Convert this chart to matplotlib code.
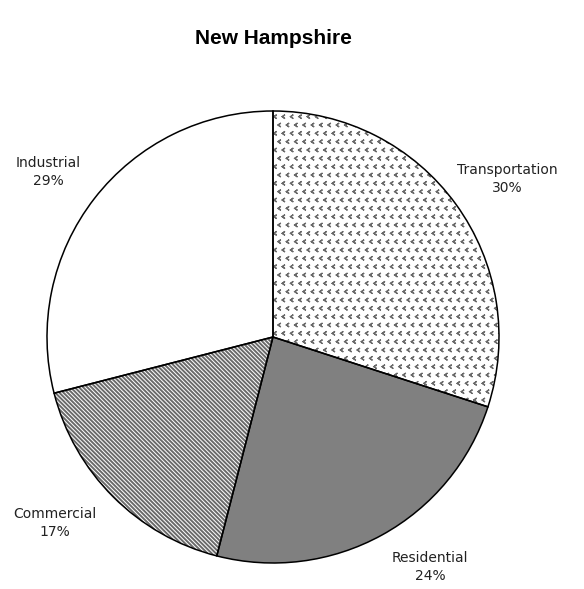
import numpy as np
import matplotlib.pyplot as plt
import matplotlib.hatch as mhatch
from matplotlib.path import Path

sectors = ['Transportation', 'Residential', 'Commercial', 'Industrial']
shares = [30, 24, 17, 29]
fills = ['white', '#808080', 'white', 'white']
hatches = ['..', None, '\\' * 8, None]


# small chevron marks for the transportation texture
class Chevrons(mhatch.Shapes):
    size = 0.4
    filled = False

    def __init__(self, hatch, density):
        self.num_rows = hatch.count('.') * density
        self.shape_vertices = np.array([[0.35, 0.5], [-0.35, 0], [0.35, -0.5]])
        self.shape_codes = np.array([Path.MOVETO, Path.LINETO, Path.LINETO])
        super().__init__(hatch, density)


mhatch._hatch_types = [Chevrons if t is mhatch.SmallFilledCircles else t
                       for t in mhatch._hatch_types]
plt.rcParams['hatch.linewidth'] = 0.9

fig = plt.figure(figsize=(5.84, 5.89), dpi=100)
fig.text(273 / 584, 1 - 38 / 589, 'New Hampshire', ha='center', va='center',
         fontsize=15, fontweight='bold', family='Liberation Sans')

ax = fig.add_axes([47 / 584, 1 - 563 / 589, 452 / 584, 452 / 589])
# hatched layer first, grey hatch follows the edge colour
hw, _ = ax.pie(shares, colors=fills, startangle=90, counterclock=False,
               wedgeprops=dict(edgecolor='#6a6a6a', linewidth=0))
for w, h in zip(hw, hatches):
    if h:
        w.set_hatch(h)
hw[2]._hatch_linewidth = 1.4
# outlines on top
ow, _ = ax.pie(shares, startangle=90, counterclock=False,
               wedgeprops=dict(edgecolor='black', linewidth=1.1, fill=False))
ax.set_xlim(-1, 1)
ax.set_ylim(-1, 1)
ax.set_aspect('auto')

# label positions in figure pixels
label_pos = [(507, 179), (430, 567), (55, 523), (48, 172)]
for name, val, (px, py) in zip(sectors, shares, label_pos):
    fig.text(px / 584, 1 - py / 589, f'{name}\n{val}%', ha='center', va='center',
             fontsize=10, color='#222222', linespacing=1.35, family='DejaVu Sans')

fig.savefig('out.png', dpi=100)
